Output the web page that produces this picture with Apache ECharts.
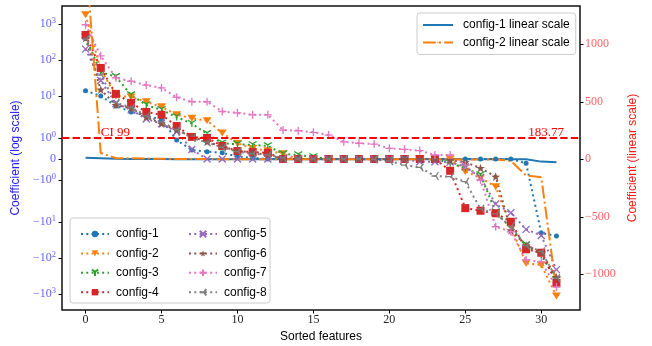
<!DOCTYPE html>
<html>
<head>
<meta charset="utf-8">
<title>Sorted feature coefficients</title>
<script src="https://cdn.jsdelivr.net/npm/echarts@6/dist/echarts.min.js"></script>
<style>
  html, body { margin: 0; padding: 0; background: #fff; }
  #chart { width: 652px; height: 346px; }
</style>
</head>
<body>
<div id="chart"></div>
<script>
// ---- data ----
const features = [0, 1, 2, 3, 4, 5, 6, 7, 8, 9, 10, 11, 12, 13, 14, 15,
  16, 17, 18, 19, 20, 21, 22, 23, 24, 25, 26, 27, 28, 29, 30, 31];
const xTicks = [0, 5, 10, 15, 20, 25, 30];
const logTicks = [-1000, -100, -10, -1, 0, 1, 10, 100, 1000];
const linTicks = [-1000, -500, 0, 500, 1000];
const ciValue = 183.77;
const ciLabel = 'CI 99';

const config1 = [14, 10, 5.3, 3.6, 2.8, 2.2, 0.9, 0.43, 0.35, 0.3, 0.12, 0.05,
  0, 0, 0, 0, 0, 0, 0, 0, 0, 0, 0, 0, 0, 0, 0, 0, 0, -0.2, -20, -24.5];
const config2 = [1800, 55, 10, 9.4, 6.9, 5, 3, 2.4, 2.06, 1.24, 0.75, 0.5, 0.4, 0.25,
  0, 0, 0, 0, 0, 0, 0, 0, 0, 0, 0, -0.6, -0.9, -1.32, -13.8, -140, -156, -1136];
const config3 = [420, 46, 34, 10.6, 5.6, 4.1, 2.6, 1.7, 1.2, 0.75, 0.7, 0.67, 0.62, 0.24, 0.19, 0.1,
  0, 0, 0, 0, 0, 0, 0, 0, -0.2, -0.43, -0.76, -5.3, -14.7, -43.6, -82.5, -410];
const config4 = [495, 60, 11.4, 6.4, 3.6, 3.0, 1.57, 1.05, 1.0, 0.62, 0.38, 0.33, 0.29,
  0, 0, 0, 0, 0, 0, 0, 0, 0, 0, 0, -0.56, -4.1, -4.85, -5.7, -9.8, -57, -71, -485];
const config5 = [200, 27, 6.2, 4.1, 2.3, 1.7, 1.3, 0.45,
  0, 0, 0, 0, 0, 0, 0, 0, 0, 0, 0, 0, 0, 0,
  -0.13, -0.13, -0.15, -0.37, -0.88, -3.16, -5.5, -16, -23.7, -209];
const config6 = [400, 15, 5.6, 4.6, 2.6, 1.7, 1.38, 1.06, 0.82, 0.59, 0.4, 0.3, 0.2,
  0, 0, 0, 0, 0, 0, 0, 0, 0, 0, 0, -0.05, -0.15, -0.43, -0.84, -17, -44, -70, -340];
const config7 = [950, 130, 32, 25.6, 20, 16.7, 9.2, 6.9, 6.9, 3.7, 3.4, 3.0, 3.0, 1.38, 1.35, 1.27,
  1.14, 0.82, 0.75, 0.71, 0.51, 0.46, 0.4, 0.19, 0.19, -0.29, -1.0, -13.5, -18.6, -113, -128, -640];
const config8 = [380, 38, 6.5, 4.8, 2.8, 1.9, 1.4, 1.0, 0.8, 0.55, 0.35, 0.25, 0.2, 0.05,
  0, 0, 0, 0, 0, -0.02, -0.1, -0.29, -0.4, -0.81, -0.84, -1.08, -4.3, -5.9, -13, -45, -65, -360];

const configNames = ['config-1', 'config-2', 'config-3', 'config-4',
  'config-5', 'config-6', 'config-7', 'config-8'];
const configValues = [config1, config2, config3, config4, config5, config6, config7, config8];
const linearNames = ['config-1 linear scale', 'config-2 linear scale'];

// ---- styles ----
const palette = ['#1f77b4', '#ff7f0e', '#2ca02c', '#d62728', '#9467bd', '#8c564b', '#e377c2', '#7f7f7f'];
const markers = [
  { symbol: 'circle', size: 5, stroke: false },
  { symbol: 'path://M0,0L10,0L5,8.66Z', size: [9, 8], stroke: false },
  { symbol: 'path://M5,5L5,10M5,5L0.67,2.5M5,5L9.33,2.5', size: 8, stroke: true },
  { symbol: 'rect', size: 8, stroke: false },
  { symbol: 'path://M0,0L10,10M10,0L0,10', size: 7, stroke: true },
  { symbol: 'path://M5,0L6.18,3.38L9.76,3.45L6.9,5.62L7.94,9.05L5,7L2.06,9.05L3.1,5.62L0.24,3.45L3.82,3.38Z', size: 9, stroke: false },
  { symbol: 'path://M5,0L5,10M0,5L10,5', size: 8, stroke: true },
  { symbol: 'path://M5,5L0,5M5,5L7.5,9.33M5,5L7.5,0.67', size: 8, stroke: true }
];
const serif = 'Liberation Serif';
const sans = 'Liberation Sans';

// symmetric log transform fitted to the left axis
const LIN_THRESH = 1.67;
const LIN_SLOPE = 21 / 36;
function symlog(v) {
  const a = Math.abs(v);
  if (a <= LIN_THRESH) return v * LIN_SLOPE;
  return Math.sign(v) * (LIN_THRESH * LIN_SLOPE + Math.log10(a / LIN_THRESH));
}

const logTickPos = logTicks.map(symlog);

function logLabel(value) {
  const idx = logTickPos.findIndex(p => Math.abs(p - value) < 1e-6);
  if (idx < 0) return '';
  const t = logTicks[idx];
  if (t === 0) return '{b|0}';
  const exp = Math.round(Math.log10(Math.abs(t)));
  return '{b|' + (t < 0 ? '\u2212' : '') + '10}{s|' + exp + '}';
}

const chart = echarts.init(document.getElementById('chart'));

const configSeries = configNames.map((name, i) => ({
  name,
  type: 'line',
  yAxisIndex: 0,
  data: features.map((x, k) => [x, symlog(configValues[i][k])]),
  symbol: markers[i].symbol,
  symbolSize: markers[i].size,
  symbolKeepAspect: true,
  color: palette[i],
  itemStyle: markers[i].stroke
    ? { color: palette[i], borderColor: palette[i], borderWidth: 1.3 }
    : { color: palette[i], borderWidth: 0 },
  lineStyle: { color: palette[i], width: 2, type: [2, 3.3] },
  silent: true
}));

const linearSeries = [
  {
    name: linearNames[0],
    type: 'line',
    yAxisIndex: 1,
    data: features.map((x, k) => [x, config1[k]]),
    symbol: 'none',
    color: palette[0],
    lineStyle: { color: palette[0], width: 2 },
    silent: true,
    markLine: {
      silent: true,
      symbol: ['none', 'none'],
      label: { show: false },
      lineStyle: { color: '#ff0000', width: 2, type: [7.4, 3.2] },
      data: [{ yAxis: ciValue }]
    }
  },
  {
    name: linearNames[1],
    type: 'line',
    yAxisIndex: 1,
    data: features.map((x, k) => [x, config2[k]]),
    symbol: 'none',
    color: palette[1],
    lineStyle: { color: palette[1], width: 2, type: [12.8, 3.2, 2, 3.2] },
    silent: true
  }
];

const legendText = { fontFamily: sans, fontSize: 12, color: '#000', padding: [0, 0, 0, 2] };

const option = {
  animation: false,
  grid: {
    left: 62, right: 72, top: 6, bottom: 36,
    show: true, borderColor: '#111', borderWidth: 1.5,
    outerBoundsMode: 'none'
  },
  legend: [
    {
      data: configNames.slice(0, 4),
      orient: 'vertical', left: 75, top: 223,
      itemWidth: 28, itemHeight: 8, itemGap: 7.4,
      selectedMode: false, textStyle: legendText
    },
    {
      data: configNames.slice(4),
      orient: 'vertical', left: 183, top: 223,
      itemWidth: 28, itemHeight: 8, itemGap: 7.4,
      selectedMode: false, textStyle: legendText
    },
    {
      data: linearNames,
      orient: 'vertical', left: 417, top: 13,
      padding: [6, 6, 6, 5],
      itemWidth: 30, itemHeight: 2, itemGap: 5.5,
      borderColor: '#cccccc', borderWidth: 1, borderRadius: 3,
      backgroundColor: 'rgba(255,255,255,0.8)',
      selectedMode: false, textStyle: Object.assign({}, legendText, { padding: [0, 0, 0, 5] })
    }
  ],
  xAxis: {
    type: 'value',
    min: -1.55, max: 32.55,
    name: 'Sorted features',
    nameLocation: 'middle', nameGap: 17,
    nameTextStyle: { fontFamily: sans, fontSize: 12, color: '#000' },
    axisLine: { show: false, onZero: false },
    axisTick: { show: true, length: 3.5, customValues: xTicks, lineStyle: { color: '#000', width: 1 } },
    axisLabel: { customValues: xTicks, margin: 4, fontFamily: serif, fontSize: 12, color: '#222' },
    splitLine: { show: false }
  },
  yAxis: [
    {
      type: 'value',
      position: 'left',
      min: -4.194, max: 4.25,
      name: 'Coefficient (log scale)',
      nameLocation: 'middle', nameGap: 32,
      nameTextStyle: { fontFamily: sans, fontSize: 12, color: '#1a1aff' },
      axisLine: { show: false, onZero: false },
      axisTick: { show: true, length: 3.5, customValues: logTickPos, lineStyle: { color: '#000', width: 1 } },
      axisLabel: {
        customValues: logTickPos,
        margin: 6,
        formatter: logLabel,
        rich: {
          b: { fontFamily: serif, fontSize: 12, color: '#6464ff', lineHeight: 16 },
          s: { fontFamily: serif, fontSize: 8.5, color: '#6464ff', lineHeight: 9, verticalAlign: 'top' }
        }
      },
      splitLine: { show: false }
    },
    {
      type: 'value',
      position: 'right',
      min: -1310, max: 1333,
      name: 'Coefficient (linear scale)',
      nameLocation: 'middle', nameGap: 40,
      nameRotate: 90,
      nameTextStyle: { fontFamily: sans, fontSize: 12, color: '#ff1a1a' },
      axisLine: { show: false, onZero: false },
      axisTick: { show: true, length: 3.5, customValues: linTicks, lineStyle: { color: '#000', width: 1 } },
      axisLabel: {
        customValues: linTicks,
        margin: 5,
        fontFamily: serif, fontSize: 12, color: '#ff6464',
        formatter: v => (v < 0 ? '\u2212' + Math.abs(v) : String(v))
      },
      splitLine: { show: false }
    }
  ],
  graphic: [
    {
      id: 'legendFrame',
      type: 'rect',
      z: 3,
      shape: { x: 70, y: 218, width: 200, height: 85, r: 3 },
      style: { fill: 'rgba(255,255,255,0.8)', stroke: '#cccccc', lineWidth: 1 }
    }
  ],
  series: configSeries.concat(linearSeries)
};

chart.setOption(option);

// threshold labels placed through the linear-axis coordinate system
const linIdx = configSeries.length;
const ciLeft = chart.convertToPixel({ seriesIndex: linIdx }, [1, ciValue]);
const ciRight = chart.convertToPixel({ seriesIndex: linIdx }, [31.5, ciValue]);
chart.setOption({
  graphic: [
    {
      id: 'ciLeft', type: 'text', z: 10,
      x: ciLeft[0], y: ciLeft[1] + 1,
      style: { text: ciLabel, fill: '#ff0000', font: '13px "' + serif + '"', align: 'left', verticalAlign: 'bottom' }
    },
    {
      id: 'ciRight', type: 'text', z: 10,
      x: ciRight[0], y: ciRight[1] + 1,
      style: { text: ciValue.toFixed(2), fill: '#ff0000', font: '13px "' + serif + '"', align: 'right', verticalAlign: 'bottom' }
    }
  ]
});

window.addEventListener('resize', () => chart.resize());
</script>
</body>
</html>
